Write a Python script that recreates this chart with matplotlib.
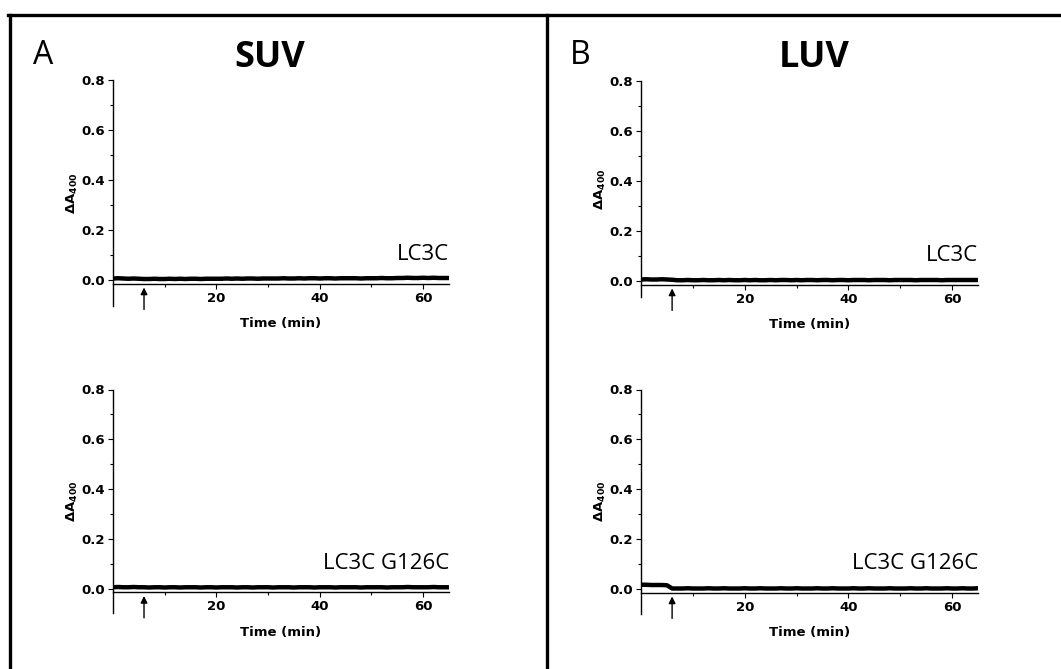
import numpy as np
import matplotlib.pyplot as plt
from matplotlib.lines import Line2D

plt.rcParams['mathtext.fontset'] = 'custom'
plt.rcParams['mathtext.rm'] = 'DejaVu Sans'
plt.rcParams['mathtext.bf'] = 'DejaVu Sans:bold'

# time axis, one reading per minute
time_min = list(range(0, 66))

suv_lc3c = [0.006, 0.007, 0.006, 0.005, 0.006, 0.005, 0.004, 0.004, 0.005, 0.004, 0.004,
            0.005, 0.004, 0.005, 0.004, 0.005, 0.005, 0.004, 0.005, 0.005, 0.005,
            0.005, 0.006, 0.005, 0.006, 0.005, 0.006, 0.006, 0.005, 0.006, 0.006,
            0.006, 0.006, 0.007, 0.006, 0.006, 0.007, 0.006, 0.007, 0.007, 0.006,
            0.007, 0.007, 0.006, 0.007, 0.007, 0.007, 0.007, 0.006, 0.007, 0.007,
            0.007, 0.008, 0.007, 0.007, 0.008, 0.008, 0.009, 0.008, 0.008, 0.009,
            0.008, 0.009, 0.008, 0.008, 0.008]

suv_g126c = [0.005, 0.006, 0.005, 0.005, 0.006, 0.005, 0.005, 0.004, 0.005, 0.005, 0.004,
             0.005, 0.005, 0.004, 0.005, 0.005, 0.005, 0.004, 0.005, 0.005, 0.004,
             0.005, 0.005, 0.005, 0.004, 0.005, 0.005, 0.004, 0.005, 0.005, 0.005,
             0.004, 0.005, 0.005, 0.005, 0.004, 0.005, 0.005, 0.005, 0.004, 0.005,
             0.005, 0.005, 0.004, 0.005, 0.005, 0.005, 0.005, 0.004, 0.005, 0.005,
             0.005, 0.005, 0.004, 0.005, 0.005, 0.005, 0.006, 0.005, 0.005, 0.005,
             0.005, 0.006, 0.005, 0.005, 0.005]

luv_lc3c = [0.006, 0.007, 0.006, 0.006, 0.007, 0.006, 0.005, 0.003, 0.003, 0.004, 0.003,
            0.003, 0.004, 0.003, 0.003, 0.004, 0.003, 0.004, 0.003, 0.003, 0.004,
            0.003, 0.004, 0.003, 0.003, 0.004, 0.003, 0.004, 0.004, 0.003, 0.004,
            0.003, 0.004, 0.004, 0.003, 0.004, 0.004, 0.003, 0.004, 0.004, 0.003,
            0.004, 0.004, 0.004, 0.003, 0.004, 0.004, 0.004, 0.003, 0.004, 0.004,
            0.004, 0.004, 0.003, 0.004, 0.004, 0.004, 0.004, 0.003, 0.004, 0.004,
            0.004, 0.004, 0.004, 0.004, 0.004]

luv_g126c = [0.017, 0.017, 0.016, 0.016, 0.016, 0.015, 0.002, 0.002, 0.002, 0.003, 0.002,
             0.002, 0.002, 0.003, 0.002, 0.002, 0.003, 0.002, 0.002, 0.002, 0.003,
             0.002, 0.002, 0.003, 0.002, 0.002, 0.002, 0.003, 0.002, 0.002, 0.003,
             0.002, 0.002, 0.002, 0.003, 0.002, 0.002, 0.003, 0.002, 0.002, 0.002,
             0.003, 0.002, 0.002, 0.003, 0.002, 0.002, 0.002, 0.003, 0.002, 0.002,
             0.002, 0.003, 0.002, 0.002, 0.003, 0.002, 0.002, 0.002, 0.003, 0.002,
             0.002, 0.003, 0.002, 0.002, 0.003]

arrow_time = 6

W, H = 1061, 669
fig = plt.figure(figsize=(W / 100, H / 100), dpi=100)


def make_axes(left, right, top, zero, ylow):
    # pixel positions of x=0, x=65, y=0.8 and y=0.0
    scale = (zero - top) / 0.8
    bottom = zero + (-ylow) * scale
    return fig.add_axes([left / W, 1 - bottom / H, (right - left) / W, (bottom - top) / H])


panels = [
    (make_axes(113, 449, 80, 280, -0.104), suv_lc3c, "LC3C", -0.104),
    (make_axes(113, 449, 389.5, 588.5, -0.1), suv_g126c, "LC3C G126C", -0.1),
    (make_axes(641, 978, 81.5, 281, -0.065), luv_lc3c, "LC3C", -0.065),
    (make_axes(641, 978, 389.5, 589, -0.1), luv_g126c, "LC3C G126C", -0.1),
]

for ax, vals, name, ylow in panels:
    ax.plot(time_min, vals, color="black", lw=3.2)
    ax.set_xlim(0, 65)
    ax.set_ylim(ylow, 0.8)
    ax.spines["top"].set_visible(False)
    ax.spines["right"].set_visible(False)
    ax.spines["bottom"].set_position(("data", -0.016))
    ax.spines["left"].set_linewidth(1.0)
    ax.spines["bottom"].set_linewidth(1.0)
    ax.set_xticks([20, 40, 60])
    ax.set_xticks([10, 30, 50], minor=True)
    ax.set_yticks([0.0, 0.2, 0.4, 0.6, 0.8])
    ax.set_yticks([0.1, 0.3, 0.5, 0.7], minor=True)
    ax.set_yticklabels(["0.0", "0.2", "0.4", "0.6", "0.8"])
    ax.tick_params(which="major", length=3.5, width=0.8, labelsize=9.5, pad=2)
    ax.tick_params(which="minor", length=2, width=0.8)
    for lab in ax.get_xticklabels() + ax.get_yticklabels():
        lab.set_fontfamily("DejaVu Sans")
        lab.set_fontweight("bold")
    ax.set_xlabel("Time (min)", fontsize=9.5, fontweight="bold", family="DejaVu Sans", labelpad=9)
    ax.set_ylabel(r"$\mathbf{\Delta A}_{\mathbf{400}}$", fontsize=9.5, labelpad=1)
    ax.text(65, 0.08, name, ha="right", va="baseline", fontsize=16, family="Open Sans")
    ax.annotate("", xy=(arrow_time, -0.03), xytext=(arrow_time, -0.118),
                arrowprops=dict(arrowstyle="-|>", color="black", lw=1, mutation_scale=10,
                                shrinkA=0, shrinkB=0),
                annotation_clip=False)

# panel letters and titles
fig.text(43 / W, 1 - 55 / H, "A", fontsize=23, family="Open Sans", ha="center", va="center")
fig.text(580 / W, 1 - 55 / H, "B", fontsize=23, family="Open Sans", ha="center", va="center")
fig.text(270 / W, 1 - 58 / H, "SUV", fontsize=26, family="Open Sans", fontweight="bold",
         ha="center", va="center")
fig.text(814 / W, 1 - 58 / H, "LUV", fontsize=26, family="Open Sans", fontweight="bold",
         ha="center", va="center")

# frame lines
lw_frame = 2.4
fig.add_artist(Line2D([8 / W, 1], [1 - 15 / H, 1 - 15 / H], color="black", lw=lw_frame,
                      transform=fig.transFigure))
fig.add_artist(Line2D([10 / W, 10 / W], [0, 1 - 15 / H], color="black", lw=lw_frame,
                      transform=fig.transFigure))
fig.add_artist(Line2D([547 / W, 547 / W], [0, 1 - 15 / H], color="black", lw=lw_frame,
                      transform=fig.transFigure))

fig.savefig("out.png", dpi=100)
